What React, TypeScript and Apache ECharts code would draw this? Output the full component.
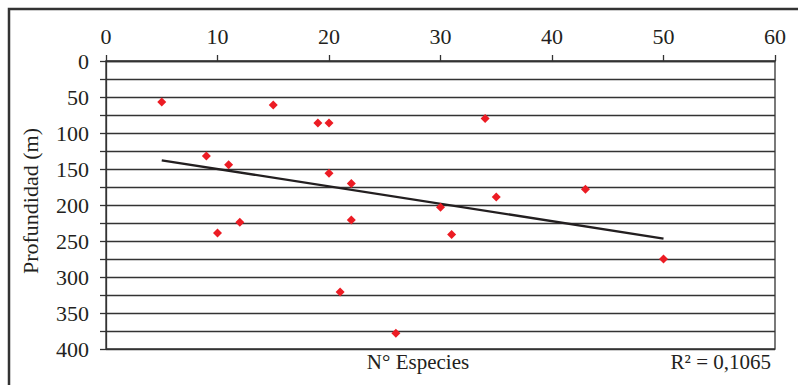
import React, { useEffect, useRef } from "react";
import * as echarts from "echarts";

const especies = [5, 15, 19, 20, 34, 9, 11, 20, 22, 43, 35, 30, 12, 22, 10, 31, 50, 21, 26];
const profundidad = [57, 61, 86, 86, 80, 132, 144, 156, 170, 178, 189, 203, 224, 221, 239, 241, 275, 321, 378];
const xTicks = [0, 10, 20, 30, 40, 50, 60];
const yLabelStep = 50;
const xTitle = "N° Especies";
const yTitle = "Profundidad (m)";
const r2Text = "R² = 0,1065";

function regression(xs: number[], ys: number[]) {
  const n = xs.length;
  const mx = xs.reduce((a, b) => a + b, 0) / n;
  const my = ys.reduce((a, b) => a + b, 0) / n;
  let sxy = 0;
  let sxx = 0;
  for (let i = 0; i < n; i++) {
    sxy += (xs[i] - mx) * (ys[i] - my);
    sxx += (xs[i] - mx) * (xs[i] - mx);
  }
  const slope = sxy / sxx;
  return { slope, intercept: my - slope * mx };
}

export default function App() {
  const ref = useRef<HTMLDivElement>(null);
  useEffect(() => {
    if (!ref.current) return;
    const chart = echarts.init(ref.current, null, { renderer: "svg" });
    const { slope, intercept } = regression(especies, profundidad);
    const xMin = Math.min(...especies);
    const xMax = Math.max(...especies);
    const trend = [
      [xMin, intercept + slope * xMin],
      [xMax, intercept + slope * xMax],
    ];
    const font = "Liberation Serif";
    const ink = "#231f20";
    chart.setOption({
      animation: false,
      backgroundColor: "#ffffff",
      grid: {
        left: 106,
        top: 61,
        right: 23,
        bottom: 36,
        show: true,
        borderColor: "#333",
        borderWidth: 1.3,
        containLabel: false,
      },
      xAxis: {
        type: "value",
        position: "top",
        min: xTicks[0],
        max: xTicks[xTicks.length - 1],
        interval: xTicks[1] - xTicks[0],
        axisLine: { show: true, lineStyle: { color: "#333", width: 1.3 } },
        axisTick: { show: true, inside: false, length: 6, lineStyle: { color: "#333", width: 1.3 } },
        axisLabel: { color: ink, fontFamily: font, fontSize: 22, margin: 14 },
        splitLine: { show: false },
      },
      yAxis: {
        type: "value",
        inverse: true,
        min: 0,
        max: 400,
        interval: 25,
        axisLine: { show: true, lineStyle: { color: "#333", width: 1.3 } },
        axisTick: { show: true, inside: false, length: 6, lineStyle: { color: "#333", width: 1.3 } },
        axisLabel: {
          color: ink,
          fontFamily: font,
          fontSize: 22,
          margin: 17,
          formatter: (v: number) => (v % yLabelStep === 0 ? String(v) : ""),
        },
        splitLine: { show: true, lineStyle: { color: "#333", width: 1.3 } },
      },
      series: [
        {
          type: "scatter",
          data: especies.map((x, i) => [x, profundidad[i]]),
          symbol: "diamond",
          symbolSize: 9,
          itemStyle: { color: "#ec1c24", opacity: 1 },
          z: 3,
        },
        {
          type: "line",
          data: trend,
          showSymbol: false,
          symbol: "none",
          lineStyle: { color: ink, width: 2.3 },
          z: 2,
        },
      ],
      graphic: [
        {
          type: "rect",
          shape: { x: 9, y: 9, width: 830, height: 420 },
          style: { fill: "none", stroke: "#333", lineWidth: 2.5 },
          silent: true,
        },
        {
          type: "text",
          x: 30,
          y: 201,
          rotation: Math.PI / 2,
          style: {
            text: yTitle,
            fontFamily: font,
            fontSize: 22,
            fill: ink,
            align: "center",
            verticalAlign: "middle",
          },
        },
        {
          type: "text",
          x: 418,
          y: 362,
          style: {
            text: xTitle,
            fontFamily: font,
            fontSize: 21,
            fill: ink,
            align: "center",
            verticalAlign: "middle",
          },
        },
        {
          type: "text",
          x: 771,
          y: 362,
          style: {
            text: r2Text,
            fontFamily: font,
            fontSize: 21,
            fill: ink,
            align: "right",
            verticalAlign: "middle",
          },
        },
      ],
    });
    return () => chart.dispose();
  }, []);
  return (
    <div
      ref={ref}
      style={{ position: "fixed", left: 0, top: 0, width: 798, height: 385 }}
    />
  );
}
